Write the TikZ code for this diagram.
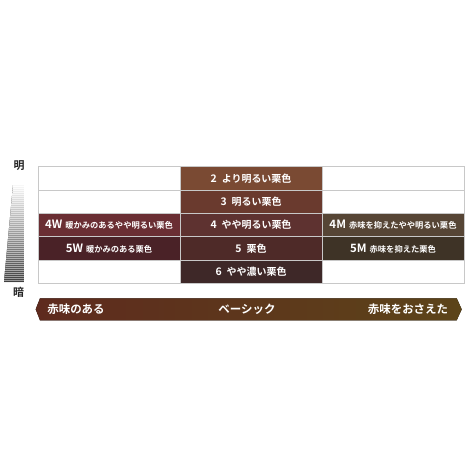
\documentclass[tikz,border=0pt]{standalone}
\usepackage{fontspec}
\setmainfont{Noto Sans CJK JP}[BoldFont={Noto Sans CJK JP Bold}]
\definecolor{grid}{HTML}{C8C8C8}
\definecolor{kuri2}{HTML}{7A4A33}
\definecolor{kuri3}{HTML}{6A3A2E}
\definecolor{kuri4}{HTML}{5E3230}
\definecolor{kuri5}{HTML}{4E2A28}
\definecolor{kuri6}{HTML}{3E2828}
\definecolor{warm4}{HTML}{6A2E33}
\definecolor{warm5}{HTML}{4A2227}
\definecolor{mild4}{HTML}{564535}
\definecolor{mild5}{HTML}{3E3326}
\definecolor{bandL}{HTML}{5E2A1E}
\definecolor{bandM}{HTML}{704823}
\definecolor{bandR}{HTML}{5C4419}
\newcommand{\sidelbl}[2]{{\fontsize{11.5}{12}\selectfont #1}\hspace{3bp}{\fontsize{8.3}{10}\selectfont #2}}
\newcommand{\baselbl}[2]{{\fontsize{10.5}{12}\selectfont #1}\hspace{5bp}#2}

\begin{document}
\begin{tikzpicture}[x=1bp,y=-1bp]
  \tikzstyle{cell}=[rectangle,draw=grid,line width=0.8bp,minimum width=142bp,minimum height=23.3bp,inner sep=0pt,text=white,font=\bfseries\fontsize{10}{12}\selectfont]
  \tikzstyle{band}=[text=white,font=\bfseries\fontsize{11.5}{12}\selectfont]
  \tikzstyle{tone}=[font=\bfseries\fontsize{11}{12}\selectfont,text=black!85]
  \useasboundingbox (0,0) rectangle (471,471);
  % empty cells
  \node [cell,fill=white] (wa) at (109,178.3) {};
  \node [cell,fill=white] (wb) at (109,201.7) {};
  \node [cell,fill=white] (wf) at (109,271.7) {};
  \node [cell,fill=white] (ma) at (393,178.3) {};
  \node [cell,fill=white] (mb) at (393,201.7) {};
  \node [cell,fill=white] (mf) at (393,271.7) {};
  % basic column
  \node [cell,fill=kuri2] (k2) at (251,178.3) {\baselbl{2}{より明るい栗色}};
  \node [cell,fill=kuri3] (k3) at (251,201.7) {\baselbl{3}{明るい栗色}};
  \node [cell,fill=kuri4] (k4) at (251,225)   {\baselbl{4}{やや明るい栗色}};
  \node [cell,fill=kuri5] (k5) at (251,248.3) {\baselbl{5}{栗色}};
  \node [cell,fill=kuri6] (k6) at (251,271.7) {\baselbl{6}{やや濃い栗色}};
  % warm and mild columns
  \node [cell,fill=warm4] (w4) at (109,225)   {\sidelbl{4W}{暖かみのあるやや明るい栗色}};
  \node [cell,fill=warm5] (w5) at (109,248.3) {\sidelbl{5W}{暖かみのある栗色}};
  \node [cell,fill=mild4] (m4) at (393,225)   {\sidelbl{4M}{赤味を抑えたやや明るい栗色}};
  \node [cell,fill=mild5] (m5) at (393,248.3) {\sidelbl{5M}{赤味を抑えた栗色}};
  % light to dark scale
  \begin{scope}
    \clip (13,185) -- (24,185) -- (24,282) -- (4,282) -- cycle;
    \fill [top color=white,bottom color=black!40] (4,185) rectangle (24,282);
    \foreach \i [evaluate=\i as \g using 3+72*\i/48] in {0,...,48}
      \fill [black!\g] (4,185+2*\i) rectangle (24,186+2*\i);
  \end{scope}
  \node [tone] (light) at (19,166) {明};
  \node [tone] (dark)  at (18.5,292.5) {暗};
  % tone band
  \fill [left color=bandL,middle color=bandM,right color=bandR]
    (40,298.3) -- (456.7,298.3) -- (461.7,309.3) -- (456.7,320.3) -- (40,320.3) -- (35.7,309.3) -- cycle;
  \node [band] (red)   at (76,309.3)  {赤味のある};
  \node [band] (basic) at (247,309.3) {ベーシック};
  \node [band] (less)  at (408,309.3) {赤味をおさえた};
\end{tikzpicture}
\end{document}
